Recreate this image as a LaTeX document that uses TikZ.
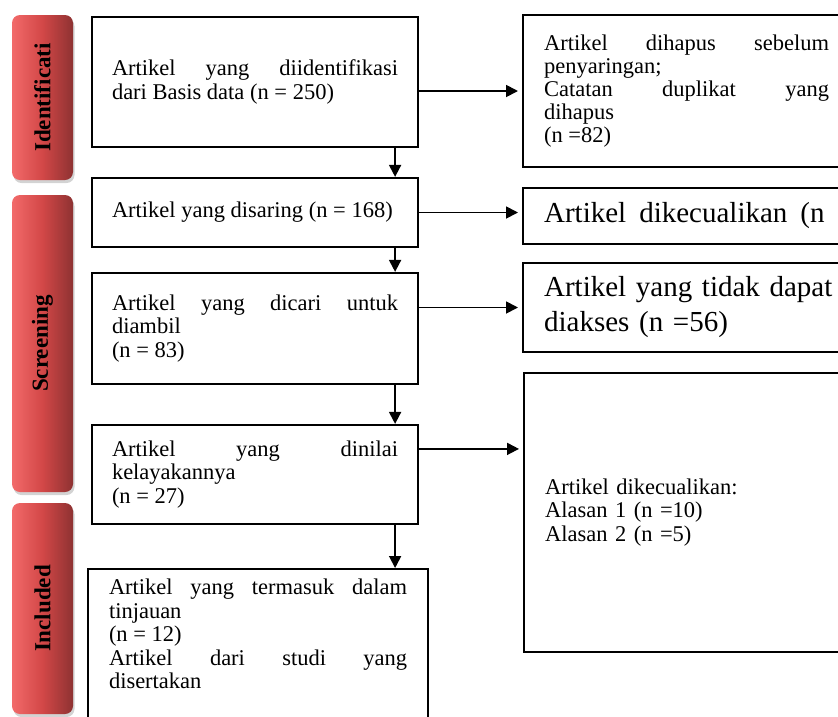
\documentclass[tikz,border=0pt]{standalone}
\usepackage{fontspec}
\setmainfont{Liberation Serif}
\usetikzlibrary{arrows.meta,shadows}
\definecolor{barlight}{HTML}{F26A6A}
\definecolor{barmid}{HTML}{D24747}
\definecolor{bardark}{HTML}{8E3232}
\newcommand{\boxfont}{\fontsize{22.5}{23.5}\selectfont}
\newcommand{\bigboxfont}{\fontsize{29}{35}\selectfont}
\newcommand{\barfont}{\fontsize{23}{23}\selectfont\bfseries}

\begin{document}
\begin{tikzpicture}[x=1pt,y=-1pt,
  flowbox/.style={draw,line width=2.2pt,inner xsep=20pt,inner ysep=6pt,text width=286pt,align=justify,font=\boxfont},
  outbox/.style={draw,line width=2.2pt,inner xsep=21pt,inner ysep=6pt,anchor=west,font=\boxfont},
  stagebar/.style={rounded corners=8pt,minimum width=61pt,left color=barlight,right color=bardark,middle color=barmid,drop shadow={shadow xshift=1.5pt,shadow yshift=-3pt,opacity=.35},font=\barfont},
  arr/.style={line width=1.8pt,-{Triangle[length=12pt,width=12pt]}}]
\useasboundingbox (0,0) rectangle (838,716);
\clip (0,0) rectangle (838,716);

\node[stagebar,minimum height=165pt] (s1) at (42.5,97.5) {\rotatebox{90}{Identificati}};
\node[stagebar,minimum height=297pt] (s2) at (42.5,343.5) {\rotatebox{90}{Screening}};
\node[stagebar,minimum height=211pt] (s3) at (42.5,608.5) {\rotatebox{90}{Included}};

\node[flowbox,minimum height=130pt] (b1) at (255,82) {Artikel yang diidentifikasi\linebreak dari Basis data (n = 250)};
\node[flowbox,minimum height=69pt] (b2) at (255,212.5) {Artikel yang disaring (n = 168)};
\node[flowbox,minimum height=111pt] (b3) at (255,328.5) {Artikel yang dicari untuk\linebreak diambil\\ (n = 83)};
\node[flowbox,minimum height=99pt] (b4) at (255,474.5) {Artikel yang dinilai\linebreak kelayakannya\\ (n = 27)};
\node[flowbox,anchor=north,text width=298pt,inner xsep=21pt,inner ysep=10pt,text depth=160pt] (b5) at (258,568) {Artikel yang termasuk dalam\linebreak tinjauan\\ (n = 12)\\ Artikel dari studi yang\linebreak disertakan};

\node[outbox,minimum height=152pt,text width=285pt,align=justify,font={\fontsize{22.5}{22.8}\selectfont}] (r1) at (522,91) {Artikel dihapus sebelum\linebreak penyaringan;\\ Catatan duplikat yang\linebreak dihapus\\ (n =82)};
\node[outbox,minimum height=56pt,text width=330pt,align=left,font=\bigboxfont] (r2) at (522,216) {Artikel\hspace{13pt}dikecualikan\hspace{13pt}(n};
\node[outbox,minimum height=89pt,text width=300pt,align=left,font=\bigboxfont] (r3) at (522,307.5) {Artikel yang tidak dapat\\ diakses (n =56)};
\node[outbox,minimum height=279pt,text width=285pt,align=left] (r4) at (523,512.5) {Artikel dikecualikan:\\ Alasan 1 (n =10)\\ Alasan 2 (n =5)};

\draw[arr,shorten >=4pt] (b1.east |- r1.west) -- (r1.west);
\draw[arr,shorten >=4pt] (b2.east) -- (b2.east -| r2.west);
\draw[arr,shorten >=4pt] (b3.east |- r3.west) -- (r3.west);
\coordinate (h4) at ([yshift=-25pt]b4.north east);
\draw[arr,shorten >=4pt] (h4) -- (h4 -| r4.west);

\coordinate (v1) at ([xshift=-24pt]b1.south east);
\coordinate (v2) at ([xshift=-24pt]b2.south east);
\coordinate (v3) at ([xshift=-24pt]b3.south east);
\coordinate (v4) at ([xshift=-24pt]b4.south east);
\draw[arr] (v1) -- (v1 |- b2.north);
\draw[arr] (v2) -- (v2 |- b3.north);
\draw[arr] (v3) -- (v3 |- b4.north);
\draw[arr] (v4) -- (v4 |- b5.north);
\end{tikzpicture}
\end{document}
